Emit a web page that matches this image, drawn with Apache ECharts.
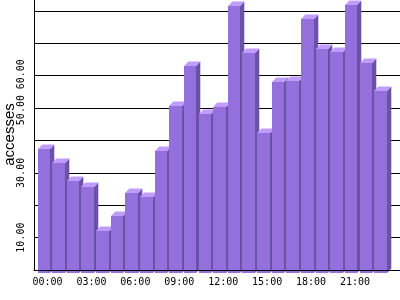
<!DOCTYPE html>
<html>
<head>
<meta charset="utf-8">
<script src="https://cdn.jsdelivr.net/npm/echarts@6/dist/echarts.min.js"></script>
<style>
html,body{margin:0;padding:0;background:#fff;}
#chart{width:400px;height:300px;}
</style>
</head>
<body>
<div id="chart"></div>
<script>
var hours = ['00:00','01:00','02:00','03:00','04:00','05:00','06:00','07:00','08:00','09:00','10:00','11:00',
             '12:00','13:00','14:00','15:00','16:00','17:00','18:00','19:00','20:00','21:00','22:00','23:00'];
var accesses = [38.2, 33.9, 28.5, 26.7, 13.1, 17.7, 24.8, 23.6, 37.8, 51.7, 64.0, 49.2,
                51.4, 82.6, 67.9, 43.1, 58.9, 59.4, 78.6, 69.1, 68.2, 82.9, 64.8, 56.3];
var yTickLabels = [10, 30, 50, 60];

var chart = echarts.init(document.getElementById('chart'), null, {renderer: 'canvas'});

function renderBar(params, api) {
  var i = api.value(0), v = api.value(1);
  var top = api.coord([i, v]);
  var base = api.coord([i, 0]);
  var c = top[0] + 6.2;
  var x0 = Math.round(c - 10), x1 = Math.round(c + 2.5);
  var ft = Math.round(top[1] + 3), fb = Math.round(base[1] + 3);
  var dx = 4.3, dy = 4.5;
  return {
    type: 'group',
    children: [
      {type: 'polygon', shape: {points: [[x1, ft], [x1 + dx, ft - dy], [x1 + dx, fb - dy], [x1, fb]]},
       style: {fill: '#6A52A6'}},
      {type: 'polygon', shape: {points: [[x0, ft], [x0 + dx, ft - dy], [x1 + dx, ft - dy], [x1, ft]]},
       style: {fill: '#C19CFF'}},
      {type: 'rect', shape: {x: x0, y: ft, width: x1 - x0, height: fb - ft},
       style: {fill: '#9370DB'}}
    ]
  };
}

chart.setOption({
  animation: false,
  backgroundColor: '#ffffff',
  grid: {left: 34, right: 0, top: -1, bottom: 30, containLabel: false, outerBoundsMode: 'none'},
  xAxis: {
    type: 'category',
    data: hours.concat(['']),
    boundaryGap: true,
    z: 10,
    axisLine: {show: true, lineStyle: {color: '#000', width: 1}},
    axisTick: {show: false},
    splitLine: {show: false},
    axisLabel: {
      interval: 2, margin: 7, color: '#000',
      fontFamily: 'DejaVu Sans Mono', fontSize: 10,
      padding: [0, 0, 0, 12.4]
    }
  },
  yAxis: {
    type: 'value', min: 0, max: 83.7, interval: 10,
    name: 'accesses', nameLocation: 'middle', nameRotate: 90, nameGap: 17,
    nameMoveOverlap: false,
    nameTextStyle: {fontFamily: 'Liberation Sans', fontSize: 15, color: '#000'},
    axisLine: {show: true, lineStyle: {color: '#000', width: 1}},
    axisTick: {show: false},
    splitLine: {show: true, lineStyle: {color: '#000', width: 1}},
    axisLabel: {
      rotate: 90, margin: 8, color: '#000',
      fontFamily: 'DejaVu Sans Mono', fontSize: 10,
      formatter: function (v) {
        if (yTickLabels.indexOf(v) < 0) return '';
        var s = v.toFixed(2);
        if (v === 50) return '{p|' + s + '}';
        if (v === 60) return '{q|' + s + '}';
        return s;
      },
      rich: {
        p: {fontFamily: 'DejaVu Sans Mono', fontSize: 10, color: '#000', padding: [0, 4, 0, 0]},
        q: {fontFamily: 'DejaVu Sans Mono', fontSize: 10, color: '#000', padding: [0, 0, 0, 3]}
      }
    }
  },
  series: [{
    type: 'custom',
    clip: false,
    encode: {x: 0, y: 1},
    data: accesses.map(function (v, i) { return [i, v]; }),
    renderItem: renderBar
  }]
});
</script>
</body>
</html>
